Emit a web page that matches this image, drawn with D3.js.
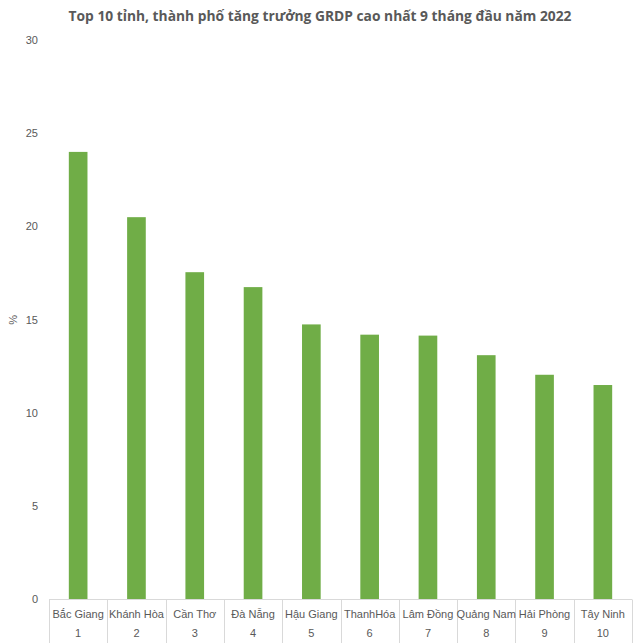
<!DOCTYPE html>
<html><head><meta charset="utf-8">
<script src="https://cdn.jsdelivr.net/npm/d3@7"></script>
<style>body{margin:0;background:#fff}svg{display:block}</style>
</head><body>
<script>
const categories = ["Bắc Giang","Khánh Hòa","Cần Thơ","Đà Nẵng","Hậu Giang","ThanhHóa","Lâm Đồng","Quảng Nam","Hải Phòng","Tây Ninh"];
const ranks = ["1","2","3","4","5","6","7","8","9","10"];
const values = [24.0, 20.5, 17.55, 16.75, 14.75, 14.2, 14.15, 13.1, 12.05, 11.5];
const yTicks = [0,5,10,15,20,25,30];
const title = "Top 10 tỉnh, thành phố tăng trưởng GRDP cao nhất 9 tháng đầu năm 2022";

const W = 640, H = 643;
const m = {left: 49, right: 8, top: 40, bottom: 44};
const svg = d3.select("body").append("svg").attr("width", W).attr("height", H);
const x = d3.scaleBand().domain(categories).range([m.left, W - m.right]).paddingInner(0.68).paddingOuter(0.34);
const xb = d3.scaleBand().domain(categories).range([m.left, W - m.right]);
const y = d3.scaleLinear().domain([0, 30]).range([H - m.bottom + 0.5, m.top]);

svg.append("text").attr("x", 320).attr("y", 21).attr("text-anchor", "middle")
  .attr("font-family", "Open Sans, sans-serif").attr("font-weight", "bold").attr("font-size", 13.8)
  .attr("fill", "#595959").text(title);

// y tick labels
svg.append("g").selectAll("text").data(yTicks).join("text")
  .attr("x", 38).attr("y", d => y(d)).attr("dy", "0.35em").attr("text-anchor", "end")
  .attr("font-family", "Liberation Sans, Arial, sans-serif").attr("font-size", 11).attr("fill", "#595959")
  .text(d => d);

svg.append("text").attr("transform", `translate(17,${(y(0)+y(30))/2}) rotate(-90)`)
  .attr("text-anchor", "middle").attr("font-family", "Liberation Sans, Arial, sans-serif")
  .attr("font-size", 11).attr("fill", "#595959").text("%");

// bars
svg.append("g").selectAll("rect").data(values).join("rect")
  .attr("x", (d,i) => x(categories[i])).attr("width", x.bandwidth())
  .attr("y", d => y(d)).attr("height", d => y(0) - y(d))
  .attr("fill", "#70AD47");

// baseline and category separators
const base = y(0);
svg.append("line").attr("x1", m.left).attr("x2", W - m.right).attr("y1", base).attr("y2", base)
  .attr("stroke", "#d9d9d9").attr("stroke-width", 1);
const seps = categories.map(c => xb(c)).concat([xb(categories[categories.length-1]) + xb.bandwidth()]);
svg.append("g").selectAll("line").data(seps).join("line")
  .attr("x1", d => Math.round(d)+0.5).attr("x2", d => Math.round(d)+0.5)
  .attr("y1", base).attr("y2", H)
  .attr("stroke", "#d9d9d9").attr("stroke-width", 1);

const g = svg.append("g").attr("font-family", "Liberation Sans, Arial, sans-serif").attr("font-size", 11).attr("fill", "#595959");
g.selectAll("text.cat").data(categories).join("text").attr("class","cat")
  .attr("x", d => xb(d) + xb.bandwidth()/2).attr("y", 618).attr("text-anchor", "middle").text(d => d);
g.selectAll("text.rank").data(ranks).join("text").attr("class","rank")
  .attr("x", (d,i) => xb(categories[i]) + xb.bandwidth()/2).attr("y", 637).attr("text-anchor", "middle").text(d => d);
</script>
</body></html>
